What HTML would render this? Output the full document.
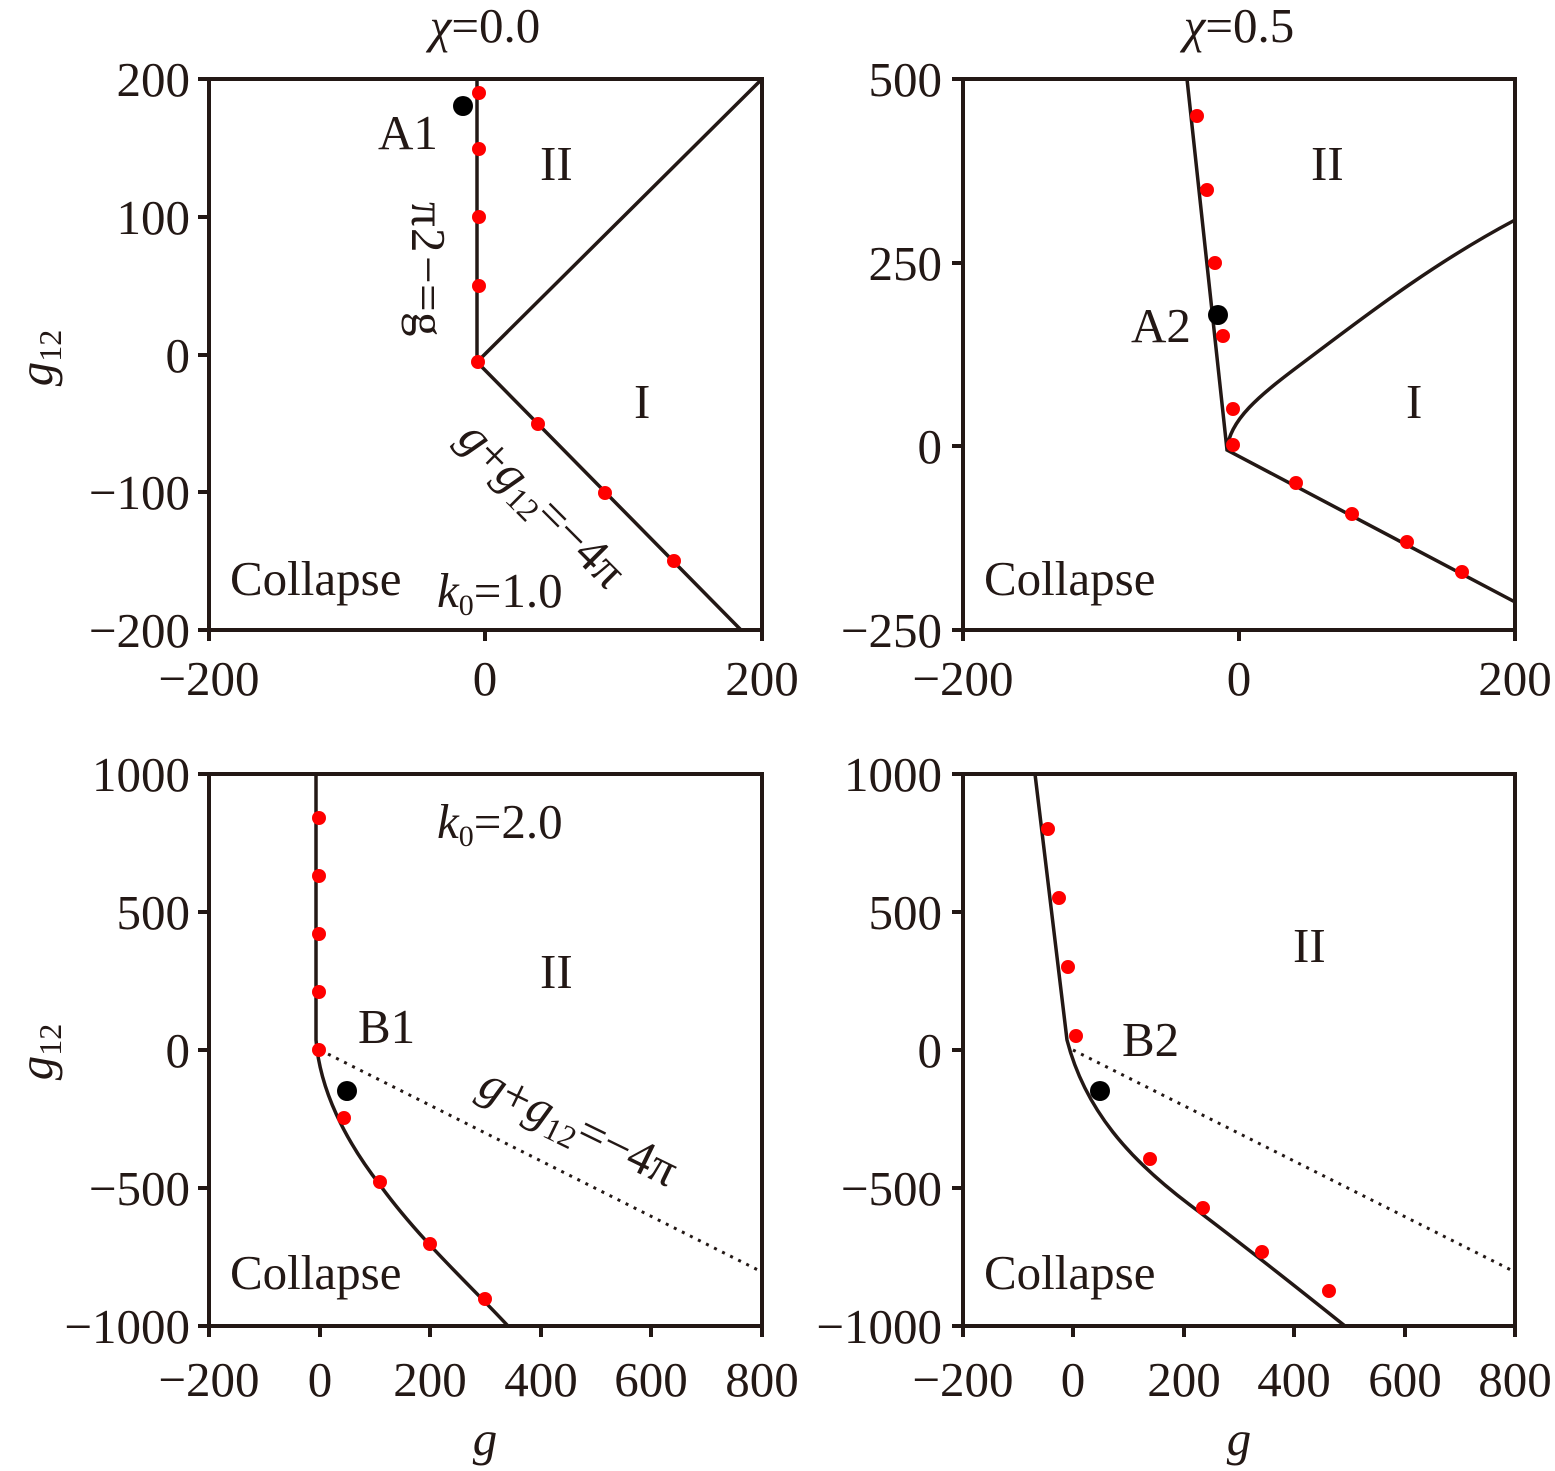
<!DOCTYPE html>
<html><head><meta charset="utf-8"><style>
html,body{margin:0;padding:0;background:#fff}
svg{display:block}
text{font-family:"Liberation Serif",serif;fill:#231815}
.t{font-size:49px}
.it{font-style:italic}
</style></head><body>
<svg width="1555" height="1471" viewBox="0 0 1555 1471" xmlns="http://www.w3.org/2000/svg">
<g stroke="#231815" stroke-width="4" fill="none">
<rect x="209" y="79" width="553" height="551"/>
<rect x="963" y="79" width="552" height="551"/>
<rect x="209" y="774" width="553" height="552"/>
<rect x="963" y="774" width="552" height="552"/>
<path d="M198 79H209M198 217H209M198 355H209M198 492H209M198 630H209M209 630V641M485 630V641M762 630V641"/>
<path d="M952 79H963M952 263H963M952 446H963M952 630H963M963 630V641M1239 630V641M1515 630V641"/>
<path d="M198 774H209M198 912H209M198 1050H209M198 1188H209M198 1326H209M209 1326V1337M320 1326V1337M430 1326V1337M541 1326V1337M651 1326V1337M762 1326V1337"/>
<path d="M952 774H963M952 912H963M952 1050H963M952 1188H963M952 1326H963M963 1326V1337M1073 1326V1337M1184 1326V1337M1294 1326V1337M1405 1326V1337M1515 1326V1337"/>
</g>
<g stroke="#231815" stroke-width="3.5" fill="none">
<path d="M477 79V362L762 79M477 362L741 630"/>
<path d="M1187 79L1227 450L1515 602M1227 450C1229 420 1260 395 1300 365C1360 320 1430 265 1515 220"/>
<path d="M316 774V1040C320 1090 345 1140 380 1185C420 1240 470 1285 508 1326"/>
<path d="M1035 774L1067 1040C1085 1110 1130 1160 1190 1205C1250 1250 1300 1290 1345 1326"/>
</g>
<g stroke="#231815" stroke-width="3" stroke-dasharray="3,6" fill="none">
<path d="M320 1050L762 1272"/>
<path d="M1073 1050L1515 1272"/>
</g>
<g fill="#ff0000">
<circle cx="479" cy="93" r="7"/><circle cx="479" cy="149" r="7"/><circle cx="479" cy="217" r="7"/><circle cx="479" cy="286" r="7"/><circle cx="478" cy="362" r="7"/><circle cx="538" cy="424" r="7"/><circle cx="605" cy="493" r="7"/><circle cx="674" cy="561" r="7"/>
<circle cx="1197" cy="116" r="7"/><circle cx="1207" cy="190" r="7"/><circle cx="1215" cy="263" r="7"/><circle cx="1223" cy="336" r="7"/><circle cx="1233" cy="409" r="7"/><circle cx="1233" cy="445" r="7"/><circle cx="1296" cy="483" r="7"/><circle cx="1352" cy="514" r="7"/><circle cx="1407" cy="542" r="7"/><circle cx="1462" cy="572" r="7"/>
<circle cx="319" cy="818" r="7"/><circle cx="319" cy="876" r="7"/><circle cx="319" cy="934" r="7"/><circle cx="319" cy="992" r="7"/><circle cx="319" cy="1050" r="7"/><circle cx="344" cy="1118" r="7"/><circle cx="380" cy="1182" r="7"/><circle cx="430" cy="1244" r="7"/><circle cx="485" cy="1299" r="7"/>
<circle cx="1048" cy="829" r="7"/><circle cx="1059" cy="898" r="7"/><circle cx="1068" cy="967" r="7"/><circle cx="1076" cy="1036" r="7"/><circle cx="1150" cy="1159" r="7"/><circle cx="1203" cy="1208" r="7"/><circle cx="1262" cy="1252" r="7"/><circle cx="1329" cy="1291" r="7"/>
</g>
<g fill="#000">
<circle cx="463" cy="106" r="10"/><circle cx="1218" cy="315" r="10"/><circle cx="347" cy="1091" r="10"/><circle cx="1100" cy="1091" r="10"/>
</g>
<g class="t" text-anchor="end">
<text x="190" y="96">200</text><text x="190" y="234">100</text><text x="190" y="372">0</text><text x="190" y="509">−100</text><text x="190" y="647">−200</text>
<text x="942" y="96">500</text><text x="942" y="280">250</text><text x="942" y="463">0</text><text x="942" y="647">−250</text>
<text x="190" y="791">1000</text><text x="190" y="929">500</text><text x="190" y="1067">0</text><text x="190" y="1205">−500</text><text x="190" y="1343">−1000</text>
<text x="942" y="791">1000</text><text x="942" y="929">500</text><text x="942" y="1067">0</text><text x="942" y="1205">−500</text><text x="942" y="1343">−1000</text>
</g>
<g class="t" text-anchor="middle">
<text x="209" y="695">−200</text><text x="485" y="695">0</text><text x="762" y="695">200</text>
<text x="963" y="695">−200</text><text x="1239" y="695">0</text><text x="1515" y="695">200</text>
<text x="209" y="1396">−200</text><text x="320" y="1396">0</text><text x="430" y="1396">200</text><text x="541" y="1396">400</text><text x="651" y="1396">600</text><text x="762" y="1396">800</text>
<text x="963" y="1396">−200</text><text x="1073" y="1396">0</text><text x="1184" y="1396">200</text><text x="1294" y="1396">400</text><text x="1405" y="1396">600</text><text x="1515" y="1396">800</text>
<text x="485" y="1455" class="it">g</text><text x="1239" y="1455" class="it">g</text>
<text x="485" y="42"><tspan class="it">χ</tspan>=0.0</text>
<text x="1239" y="42"><tspan class="it">χ</tspan>=0.5</text>
</g>
<text class="t it" transform="translate(52,358) rotate(-90)" text-anchor="middle">g<tspan font-size="32" font-style="normal" dy="9">12</tspan></text>
<text class="t it" transform="translate(52,1052) rotate(-90)" text-anchor="middle">g<tspan font-size="32" font-style="normal" dy="9">12</tspan></text>
<g class="t">
<text x="378" y="149">A1</text><text x="540" y="180">II</text><text x="634" y="418">I</text>
<text x="230" y="595">Collapse</text>
<text x="437" y="607"><tspan class="it">k</tspan><tspan font-size="30" dy="8">0</tspan><tspan dy="-8">=1.0</tspan></text>
<text x="1131" y="342">A2</text><text x="1311" y="180">II</text><text x="1406" y="418">I</text>
<text x="984" y="595">Collapse</text>
<text x="437" y="838"><tspan class="it">k</tspan><tspan font-size="30" dy="8">0</tspan><tspan dy="-8">=2.0</tspan></text>
<text x="358" y="1043">B1</text><text x="540" y="988">II</text>
<text x="230" y="1289">Collapse</text>
<text x="1122" y="1056">B2</text><text x="1293" y="962">II</text>
<text x="984" y="1289">Collapse</text>
</g>
<text class="t" transform="translate(412,200) rotate(90)"><tspan x="112">g</tspan><tspan x="84">=</tspan><tspan x="56">−</tspan><tspan x="28">2</tspan><tspan x="2">π</tspan></text>
<text class="t" transform="translate(456,440) rotate(45)"><tspan class="it">g</tspan>+<tspan class="it">g</tspan><tspan font-size="32" dy="9">12</tspan><tspan dy="-9">=−4π</tspan></text>
<text class="t" transform="translate(476,1094) rotate(26)"><tspan class="it">g</tspan>+<tspan class="it">g</tspan><tspan font-size="32" dy="9">12</tspan><tspan dy="-9">=−4π</tspan></text>
</svg>
</body></html>
